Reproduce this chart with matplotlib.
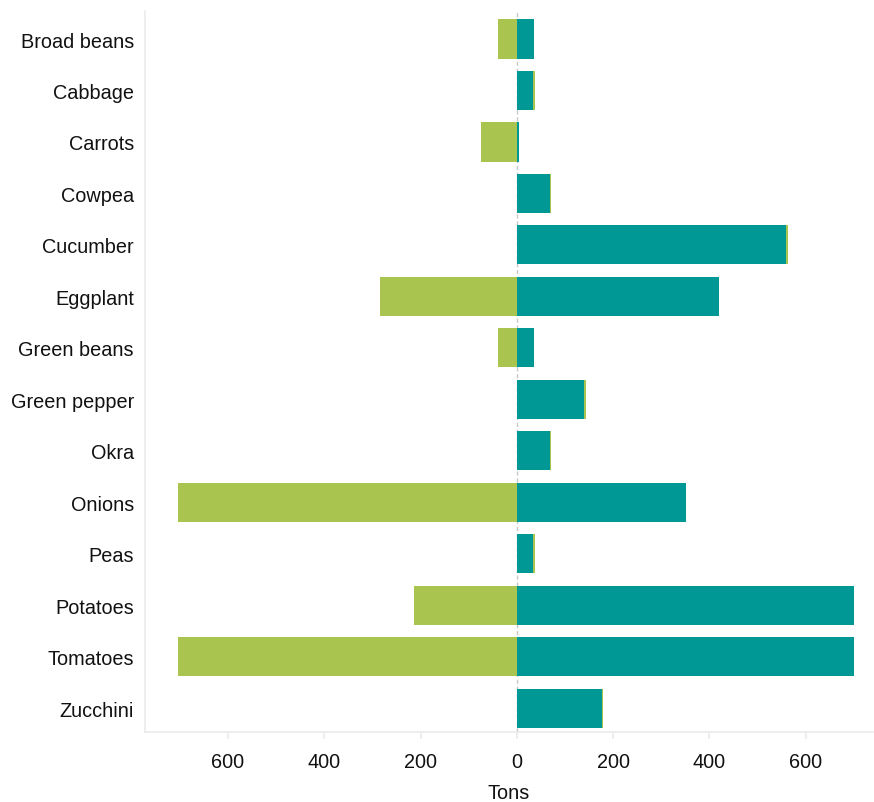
import numpy as np
import matplotlib
matplotlib.use("Agg")
import matplotlib.pyplot as plt

plt.rcParams['font.family'] = ['Liberation Sans', 'DejaVu Sans']

crops = ['Broad beans', 'Cabbage', 'Carrots', 'Cowpea', 'Cucumber', 'Eggplant',
         'Green beans', 'Green pepper', 'Okra', 'Onions', 'Peas', 'Potatoes',
         'Tomatoes', 'Zucchini']
teal_vals = [36, 34, 5, 69, 560, 420, 36, 140, 69, 352, 34, 700, 700, 176]
green_left = [39, 0, 74, 0, 0, 284, 39, 0, 0, 704, 0, 213, 704, 0]
green_right = [0, 3, 0, 3, 3, 0, 0, 3, 3, 0, 3, 0, 0, 3]
tick_vals = [-600, -400, -200, 0, 200, 400, 600]

green = '#A9C44F'
teal = '#009894'
grid_grey = '#EBEBEB'

fig = plt.figure(figsize=(8.74, 8.03), dpi=100)
ax = fig.add_axes([0.166, 0.087, 0.833, 0.898])

y = np.arange(len(crops))
h = 0.76
ax.axvline(0, color='#C8C8C8', linestyle=(0, (3, 2)), linewidth=1, zorder=1)
ax.barh(y, [-v for v in green_left], height=h, color=green, zorder=2)
ax.barh(y, teal_vals, height=h, color=teal, zorder=2)
ax.barh(y, green_right, left=teal_vals, height=h, color=green, zorder=2)

ax.set_xlim(-772, 740)
ax.set_ylim(len(crops) - 1 + 0.466, -0.544)
ax.set_yticks(y)
ax.set_yticklabels(crops, fontsize=14.3, color='#111111')
ax.set_xticks(tick_vals)
ax.set_xticklabels([str(abs(v)) for v in tick_vals], fontsize=14.3, color='#111111')
ax.set_xlabel('Tons', fontsize=14.3, color='#111111', labelpad=9)

for s in ['top', 'right']:
    ax.spines[s].set_visible(False)
for s in ['left', 'bottom']:
    ax.spines[s].set_color(grid_grey)
    ax.spines[s].set_linewidth(1.2)
ax.tick_params(axis='y', length=0, pad=8)
ax.tick_params(axis='x', length=5, width=1.2, color=grid_grey, pad=9)

fig.savefig('out.png', dpi=100)
